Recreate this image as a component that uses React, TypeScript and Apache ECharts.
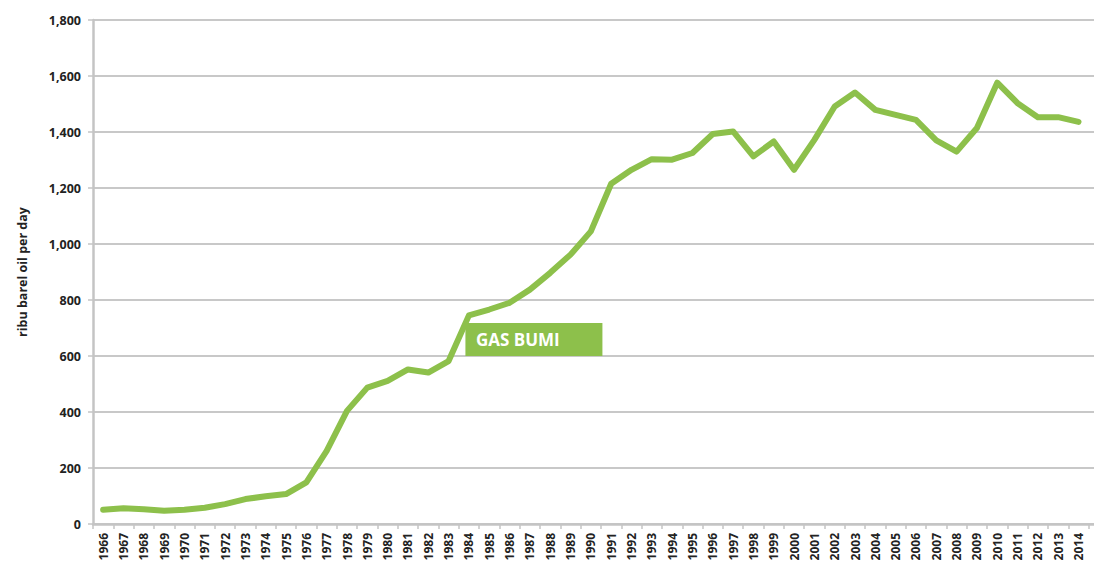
import React, { useEffect, useRef } from "react";
import * as echarts from "echarts";

const years: string[] = [
  "1966","1967","1968","1969","1970","1971","1972","1973","1974","1975",
  "1976","1977","1978","1979","1980","1981","1982","1983","1984","1985",
  "1986","1987","1988","1989","1990","1991","1992","1993","1994","1995",
  "1996","1997","1998","1999","2000","2001","2002","2003","2004","2005",
  "2006","2007","2008","2009","2010","2011","2012","2013","2014","",
];

const gasBumi: number[] = [
  51, 56, 53, 47, 51, 58, 71, 89, 99, 107,
  149, 261, 404, 487, 511, 552, 541, 582, 745, 766,
  790, 837, 897, 962, 1045, 1215, 1265, 1303, 1301, 1325,
  1393, 1402, 1313, 1366, 1265, 1372, 1491, 1541, 1479, 1461,
  1443, 1370, 1330, 1414, 1576, 1503, 1453, 1453, 1436,
];

const seriesName = "GAS BUMI";
const yAxisName = "ribu barel oil per day";

const GREEN = "#8dc04b";
const FONT = "'Open Sans', 'Noto Sans', sans-serif";

export default function App() {
  const ref = useRef<HTMLDivElement>(null);
  useEffect(() => {
    if (!ref.current) return;
    const chart = echarts.init(ref.current, undefined, { renderer: "svg" });
    chart.setOption({
      animation: false,
      backgroundColor: "#ffffff",
      grid: { left: 76, right: 0, top: 12, bottom: 43, containLabel: false },
      xAxis: {
        type: "category",
        data: years,
        boundaryGap: true,
        axisLine: { show: true, lineStyle: { color: "#c4c4c4", width: 2.5 } },
        axisTick: { show: true, length: 5, interval: 0, lineStyle: { color: "#c4c4c4", width: 1.5 } },
        axisLabel: {
          interval: 0,
          rotate: 90,
          margin: 9,
          color: "#222",
          fontFamily: FONT,
          fontWeight: 700,
          fontSize: 12,
        },
        splitLine: { show: false },
      },
      yAxis: {
        type: "value",
        min: 0,
        max: 1800,
        interval: 200,
        name: yAxisName,
        nameLocation: "middle",
        nameRotate: 90,
        nameGap: 64,
        nameTextStyle: { color: "#222", fontFamily: FONT, fontWeight: 700, fontSize: 12.5 },
        axisLine: { show: true, lineStyle: { color: "#c4c4c4", width: 2.5 } },
        axisTick: { show: true, length: 5, lineStyle: { color: "#c4c4c4", width: 1.5 } },
        axisLabel: {
          margin: 12,
          color: "#222",
          fontFamily: FONT,
          fontWeight: 700,
          fontSize: 12.5,
          formatter: (v: number) => v.toLocaleString("en-US"),
        },
        splitLine: { show: true, lineStyle: { color: "#c8c8c8", width: 2 } },
      },
      series: [
        {
          name: seriesName,
          type: "line",
          data: gasBumi,
          symbol: "none",
          lineStyle: { color: GREEN, width: 6, cap: "round", join: "round" },
          markPoint: {
            symbol: "rect",
            symbolSize: [137, 33],
            symbolOffset: [65, 24],
            itemStyle: { color: GREEN },
            label: {
              show: true,
              formatter: seriesName,
              color: "#ffffff",
              fontFamily: FONT,
              fontWeight: 700,
              fontSize: 17,
              position: "inside",
              align: "left",
              offset: [-58, 0],
            },
            data: [{ coord: ["1984", 745] }],
          },
        },
      ],
    });
    return () => chart.dispose();
  }, []);
  return (
    <div style={{ width: 1094, height: 559, overflow: "hidden" }}>
      <div ref={ref} style={{ width: 1101, height: 559 }} />
    </div>
  );
}
